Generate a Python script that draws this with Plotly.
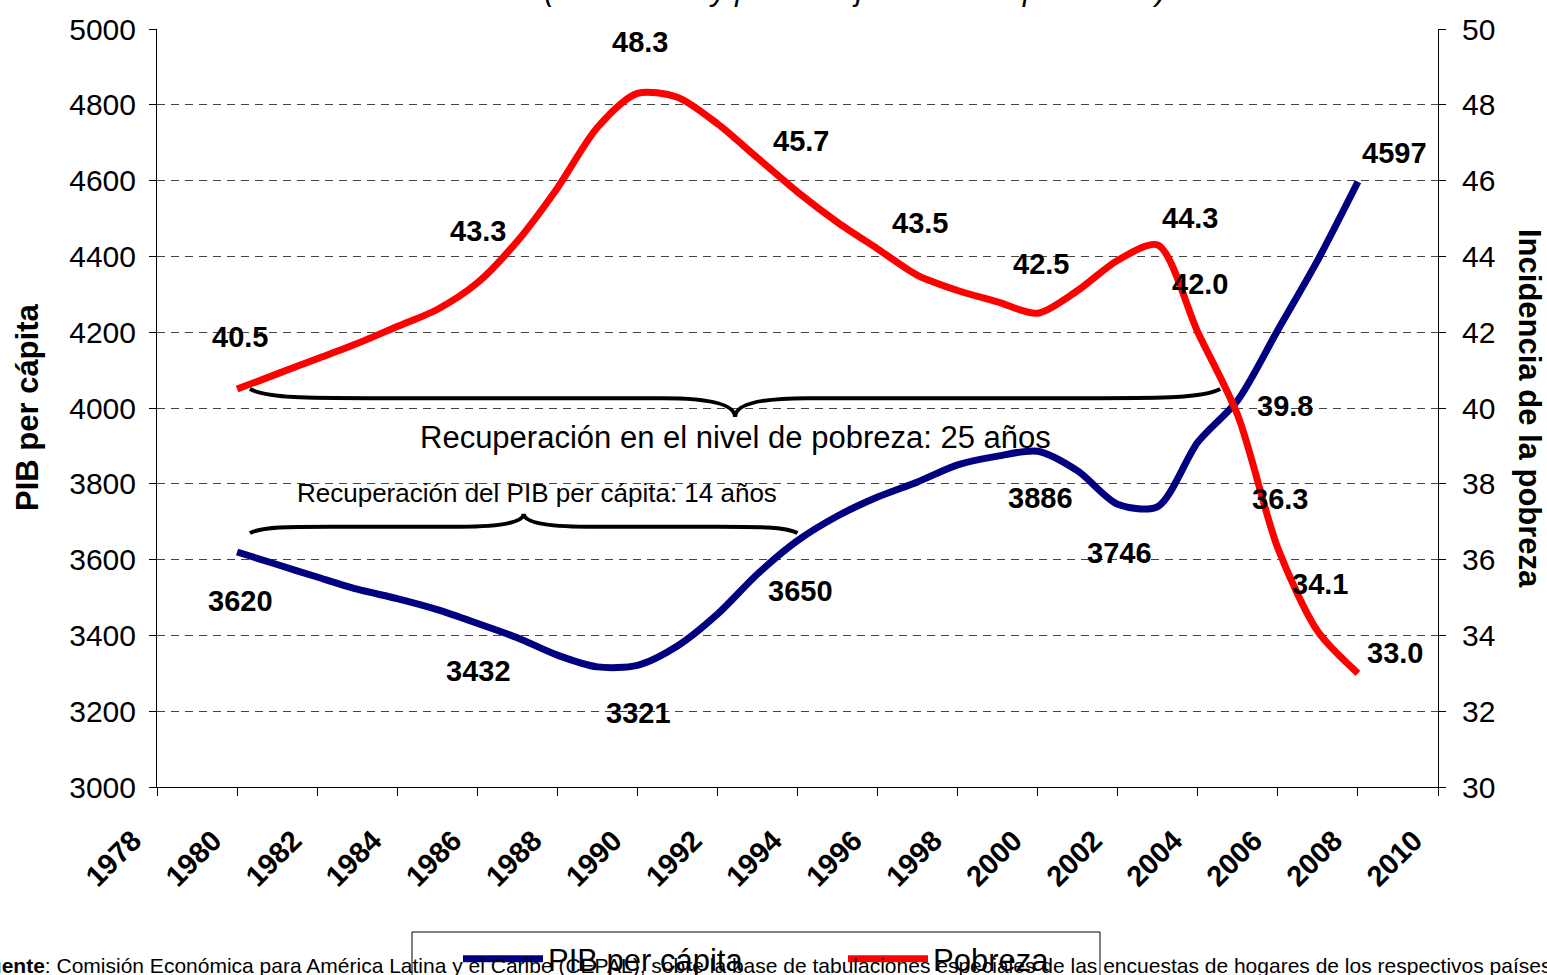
import plotly.graph_objects as go

# ---------------- data ----------------
years = list(range(1980, 2009))
pib = [3620, 3587, 3554, 3522, 3497, 3468, 3432, 3394, 3348, 3317,
       3321, 3372, 3456, 3562, 3650, 3715, 3765, 3805, 3850, 3873,
       3886, 3834, 3746, 3740, 3910, 4021, 4206, 4391, 4597]
pobreza = [40.5, 40.9, 41.3, 41.7, 42.15, 42.6, 43.3, 44.4, 45.8, 47.4,
           48.3, 48.2, 47.5, 46.6, 45.7, 44.9, 44.2, 43.5, 43.1, 42.8,
           42.5, 43.1, 43.9, 44.3, 42.0, 39.8, 36.3, 34.1, 33.0]

pib_label_years = [1980, 1986, 1990, 1994, 2000, 2002, 2008]
pob_label_years = [1980, 1986, 1990, 1994, 1997, 2000, 2003, 2004, 2005, 2006, 2007, 2008]

x_ticks = list(range(1978, 2011, 2))

title_text = "(En dólares y porcentajes sobre la población)"
source_text = ("<b>Fuente</b>: Comisión Económica para América Latina y el Caribe (CEPAL), "
               "sobre la base de tabulaciones especiales de las encuestas de hogares de los respectivos países.")
brace_pob_text = "Recuperación en el nivel de pobreza: 25 años"
brace_pib_text = "Recuperación del PIB per cápita: 14 años"

# ---------------- style ----------------
FONT = "Arial, Liberation Sans, sans-serif"
W, H = 1547, 975
ML, MR, MT, MB = 157, 109, 29, 188
PW, PH = W - ML - MR, H - MT - MB

def px_x(px):
    return (px - ML) / PW

def px_y(py):
    return (H - MB - py) / PH

# label offsets (xshift, yshift) in pixels
pib_off = {1980: (3, -49), 1986: (1, -48), 1990: (1, -48), 1994: (3, -50),
           2000: (3, -47), 2002: (2, -49), 2008: (37, 29)}
pob_off = {1980: (3, 52), 1986: (1, 52), 1990: (3, 51), 1994: (3, 51), 1997: (2, 52),
           2000: (3, 49), 2003: (32, 27), 2004: (2, 48), 2005: (47, 10), 2006: (2, 49),
           2007: (2, 48), 2008: (37, 20)}

fig = go.Figure()
fig.add_trace(go.Scatter(x=years, y=pib, name="PIB per cápita", mode="lines",
                         line=dict(color="#000080", width=7, shape="spline", smoothing=0.8),
                         yaxis="y"))
fig.add_trace(go.Scatter(x=years, y=pobreza, name="Pobreza", mode="lines",
                         line=dict(color="#FF0000", width=7, shape="spline", smoothing=0.8),
                         yaxis="y2"))

annotations = []
for yr in pib_label_years:
    v = pib[years.index(yr)]
    dx, dy = pib_off[yr]
    annotations.append(dict(x=yr, y=v, xref="x", yref="y", text=f"{v}", showarrow=False,
                            xshift=dx, yshift=dy,
                            font=dict(family=FONT, size=29, color="black", weight="bold")))
for yr in pob_label_years:
    v = pobreza[years.index(yr)]
    dx, dy = pob_off[yr]
    annotations.append(dict(x=yr, y=v, xref="x", yref="y2", text=f"{v:.1f}", showarrow=False,
                            xshift=dx, yshift=dy,
                            font=dict(family=FONT, size=29, color="black", weight="bold")))

# axis titles
annotations.append(dict(x=px_x(27), y=0.5, xref="paper", yref="paper", text="PIB per cápita",
                        textangle=-90, showarrow=False, xanchor="center", yanchor="middle",
                        font=dict(family=FONT, size=31, color="black", weight="bold")))
annotations.append(dict(x=px_x(1530), y=0.5, xref="paper", yref="paper",
                        text="Incidencia de la pobreza", textangle=90, showarrow=False,
                        xanchor="center", yanchor="middle",
                        font=dict(family=FONT, size=31, color="black", weight="bold")))
# cut-off title and source
annotations.append(dict(x=px_x(855), y=px_y(9), xref="paper", yref="paper", text=title_text,
                        showarrow=False, xanchor="center", yanchor="bottom",
                        font=dict(family=FONT, size=31, color="black", style="italic")))
annotations.append(dict(x=px_x(-26), y=px_y(979), xref="paper", yref="paper", text=source_text,
                        showarrow=False, xanchor="left", yanchor="bottom",
                        font=dict(family=FONT, size=21, color="black")))
# brace texts
annotations.append(dict(x=1992.44, y=3921, xref="x", yref="y", text=brace_pob_text,
                        showarrow=False, xanchor="center", yanchor="middle",
                        font=dict(family=FONT, size=31, color="black")))
annotations.append(dict(x=1987.49, y=3776, xref="x", yref="y", text=brace_pib_text,
                        showarrow=False, xanchor="center", yanchor="middle",
                        font=dict(family=FONT, size=26, color="black")))


def brace(x0, x1, y_end, y_flat, y_tip, h_end, h_mid):
    xc = (x0 + x1) / 2
    return (f"M {x0},{y_end} C {x0 + 0.15*h_end},{y_flat} {x0 + 0.5*h_end},{y_flat} {x0 + h_end},{y_flat} "
            f"L {xc - h_mid},{y_flat} Q {xc},{y_flat} {xc},{y_tip} "
            f"Q {xc},{y_flat} {xc + h_mid},{y_flat} "
            f"L {x1 - h_end},{y_flat} C {x1 - 0.5*h_end},{y_flat} {x1 - 0.15*h_end},{y_flat} {x1},{y_end}")

shapes = [
    dict(type="path", xref="x", yref="y", path=brace(1980.32, 2004.56, 4050, 4026, 3976, 3.0, 1.8),
         line=dict(color="black", width=4)),
    dict(type="path", xref="x", yref="y", path=brace(1980.32, 1994.0, 3670, 3687, 3721, 2.0, 1.6),
         line=dict(color="black", width=4)),
    # legend frame (extends past the bottom edge, as in the reference)
    dict(type="rect", xref="paper", yref="paper", x0=px_x(412), x1=px_x(1100),
         y0=px_y(995), y1=px_y(932), line=dict(color="black", width=1), fillcolor="rgba(0,0,0,0)"),
]

fig.update_layout(
    width=W, height=H,
    margin=dict(l=ML, r=MR, t=MT, b=MB, autoexpand=False),
    paper_bgcolor="white", plot_bgcolor="white",
    font=dict(family=FONT, color="black"),
    showlegend=True,
    legend=dict(orientation="h", x=px_x(458), xanchor="left", y=px_y(932), yanchor="top",
                borderwidth=0, bgcolor="rgba(0,0,0,0)",
                font=dict(family=FONT, size=31, color="black"),
                itemwidth=80, entrywidth=290, entrywidthmode="pixels"),
    xaxis=dict(range=[1978, 2010], tickmode="array", tickvals=x_ticks,
               ticktext=[str(t) for t in x_ticks],
               ticks="outside", ticklen=8, tickcolor="black", showline=True, linecolor="black",
               linewidth=1, showgrid=False, zeroline=False, tickangle=-45,
               ticklabelstandoff=16, ticklabelshift=-24,
               tickfont=dict(family=FONT, size=29, color="black", weight="bold")),
    yaxis=dict(range=[3000, 5000], dtick=200, tick0=3000, ticks="outside", ticklen=7,
               tickcolor="black", showline=True, linecolor="black", linewidth=1,
               showgrid=True, gridcolor="#444", gridwidth=1, griddash="8px,6px", zeroline=False,
               ticklabelstandoff=7,
               tickfont=dict(family=FONT, size=30, color="black")),
    yaxis2=dict(range=[30, 50], dtick=2, tick0=30, overlaying="y", side="right",
                ticks="outside", ticklen=7, tickcolor="black", showline=True, linecolor="black",
                linewidth=1, showgrid=False, zeroline=False, ticklabelstandoff=10,
                tickfont=dict(family=FONT, size=30, color="black")),
    annotations=annotations,
    shapes=shapes,
)

fig.write_html("out.html", config={"displayModeBar": False},
               post_script="document.body.style.margin='0';document.body.style.overflow='hidden';")
